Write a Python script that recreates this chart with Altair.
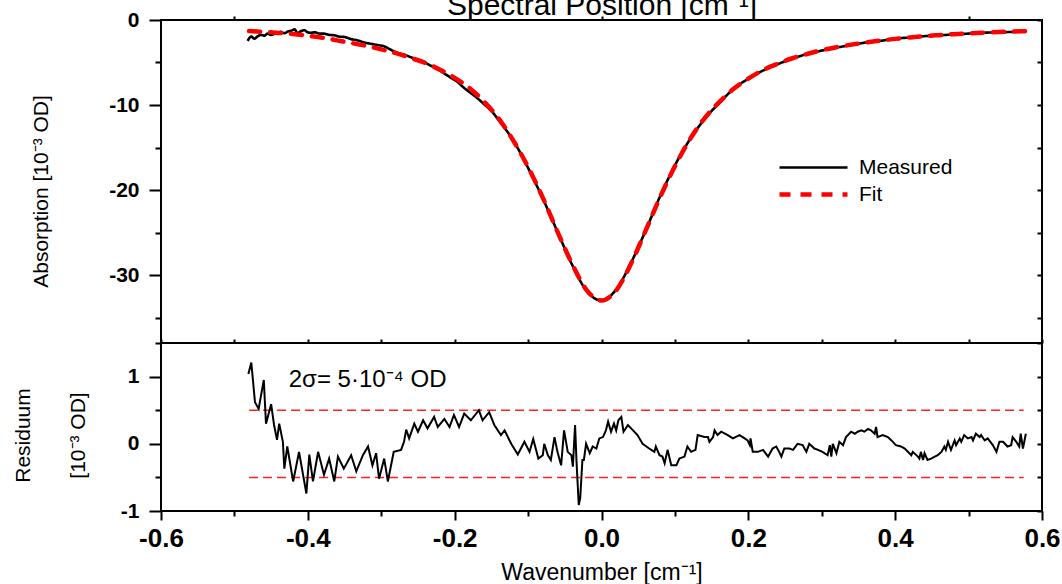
import altair as alt
import pandas as pd

FONT = "Liberation Sans"

# ---------------- data ----------------
series_names = ["Measured", "Fit"]

meas_wn = [-0.482, -0.477, -0.473, -0.468, -0.464, -0.459, -0.455, -0.450, -0.446, -0.441,
           -0.437, -0.432, -0.427, -0.422, -0.418, -0.414, -0.409, -0.405, -0.400, -0.396,
           -0.390, -0.385, -0.378, -0.371, -0.364, -0.357, -0.350, -0.341, -0.332, -0.323,
           -0.314, -0.305, -0.296, -0.287, -0.278, -0.268, -0.259, -0.250, -0.241, -0.232,
           -0.223, -0.214, -0.205, -0.196, -0.187, -0.178, -0.169, -0.160, -0.150, -0.139,
           -0.12, -0.10, -0.08, -0.06, -0.04, -0.02, 0.00, 0.02, 0.04, 0.06,
           0.08, 0.10, 0.12, 0.14, 0.16, 0.18, 0.20, 0.22, 0.24, 0.26,
           0.28, 0.30, 0.32, 0.34, 0.36, 0.38, 0.40, 0.42, 0.44, 0.46,
           0.48, 0.50, 0.52, 0.54, 0.56, 0.575]
meas_val = [-2.45, -1.95, -2.2, -1.9, -1.75, -1.85, -1.6, -1.75, -1.65, -1.5,
            -1.4, -1.55, -1.35, -1.25, -1.1, -1.55, -1.3, -1.2, -1.45, -1.5,
            -1.45, -1.6, -1.6, -1.75, -1.8, -1.95, -2.0, -2.25, -2.4, -2.65,
            -2.8, -2.95, -3.1, -3.5, -3.85, -4.1, -4.4, -4.7, -5.0, -5.4,
            -5.8, -6.3, -6.8, -7.3, -8.0, -8.6, -9.2, -9.9, -10.7, -11.9,
            -14.2, -17.4, -21.0, -24.9, -28.8, -31.9, -33.0, -31.7, -28.6, -24.8,
            -20.7, -17.1, -14.1, -11.7, -9.8, -8.1, -6.9, -5.95, -5.2, -4.55,
            -4.0, -3.6, -3.25, -2.95, -2.65, -2.45, -2.2, -2.05, -1.9, -1.8,
            -1.7, -1.6, -1.5, -1.45, -1.4, -1.35]

fit_wn = [-0.48, -0.46, -0.44, -0.42, -0.40, -0.38, -0.36, -0.34, -0.32, -0.30,
          -0.28, -0.26, -0.24, -0.22, -0.20, -0.18, -0.16, -0.14, -0.12, -0.10,
          -0.08, -0.06, -0.04, -0.02, 0.00, 0.02, 0.04, 0.06, 0.08, 0.10,
          0.12, 0.14, 0.16, 0.18, 0.20, 0.22, 0.24, 0.26, 0.28, 0.30,
          0.32, 0.34, 0.36, 0.38, 0.40, 0.42, 0.44, 0.46, 0.48, 0.50,
          0.52, 0.54, 0.56, 0.58]
fit_val = [-1.30, -1.40, -1.52, -1.65, -1.85, -2.08, -2.40, -2.72, -3.05, -3.45,
           -3.90, -4.45, -5.05, -5.85, -6.80, -8.00, -9.60, -11.6, -14.2, -17.3,
           -20.9, -24.9, -28.7, -31.8, -33.0, -31.8, -28.7, -24.8, -20.8, -17.2,
           -14.1, -11.6, -9.7, -8.1, -6.9, -5.9, -5.15, -4.5, -4.0, -3.55,
           -3.2, -2.9, -2.65, -2.42, -2.22, -2.05, -1.9, -1.78, -1.67, -1.58,
           -1.5, -1.42, -1.36, -1.30]

res_wn = [-0.481, -0.477, -0.472, -0.467, -0.460, -0.457, -0.450, -0.446, -0.442, -0.439,
          -0.434, -0.432, -0.428, -0.420, -0.412, -0.402, -0.398, -0.393, -0.386, -0.378,
          -0.371, -0.364, -0.359, -0.351, -0.341, -0.334, -0.325, -0.318, -0.312, -0.307,
          -0.303, -0.296, -0.291, -0.283, -0.273, -0.269, -0.266, -0.262, -0.255, -0.250,
          -0.243, -0.237, -0.228, -0.223, -0.214, -0.207, -0.201, -0.194, -0.187, -0.178,
          -0.167, -0.162, -0.153, -0.146, -0.137, -0.132, -0.123, -0.114, -0.105, -0.098,
          -0.093, -0.086,
          -0.080, -0.078, -0.073, -0.069, -0.064, -0.060, -0.055, -0.051, -0.046, -0.041,
          -0.039, -0.036, -0.034, -0.031, -0.029, -0.026, -0.024, -0.021, -0.016, -0.012,
          -0.007, -0.003, 0.002, 0.006, 0.009, 0.013, 0.017, 0.020, 0.023, 0.027,
          0.030, 0.036, 0.043, 0.049, 0.056, 0.065, 0.072, 0.074, 0.079, 0.083,
          0.086, 0.090, 0.095, 0.102, 0.106, 0.113, 0.117, 0.122, 0.128, 0.131,
          0.140, 0.145, 0.147, 0.152, 0.154, 0.158, 0.163, 0.172, 0.179, 0.188,
          0.195, 0.199, 0.202, 0.203, 0.206, 0.213, 0.220, 0.227, 0.233, 0.238,
          0.242, 0.245, 0.249, 0.256, 0.261, 0.267, 0.274, 0.279, 0.283, 0.290,
          0.295, 0.301, 0.308, 0.311, 0.313, 0.315, 0.320, 0.324, 0.329, 0.333,
          0.340, 0.345, 0.349, 0.354, 0.358, 0.363, 0.367, 0.372, 0.374, 0.376,
          0.383, 0.390, 0.395, 0.401, 0.408, 0.413, 0.422, 0.424, 0.431, 0.433,
          0.435, 0.438, 0.440, 0.444, 0.449, 0.454, 0.458, 0.463, 0.467, 0.469,
          0.472, 0.476, 0.481, 0.483, 0.488, 0.490, 0.494, 0.499, 0.504, 0.506,
          0.510, 0.515, 0.517, 0.522, 0.526, 0.533, 0.538, 0.542, 0.547, 0.553,
          0.558, 0.560, 0.565, 0.569, 0.571, 0.574, 0.578]
res_val = [1.04, 1.21, 0.62, 0.52, 0.95, 0.30, 0.59, 0.28, 0.06, 0.30,
           0.03, -0.37, -0.04, -0.56, -0.12, -0.74, -0.16, -0.56, -0.12, -0.46,
           -0.22, -0.56, -0.19, -0.37, -0.17, -0.41, -0.17, -0.04, -0.32, -0.14,
           -0.52, -0.22, -0.56, -0.12, -0.09, 0.03, 0.21, 0.08, 0.30, 0.18,
           0.35, 0.23, 0.40, 0.25, 0.37, 0.25, 0.43, 0.25, 0.45, 0.35,
           0.50, 0.35, 0.47, 0.28, 0.13, 0.20, 0.00, -0.16, 0.03, -0.12,
           0.07, -0.22,
           -0.17, 0.00, -0.17, -0.24, 0.10, -0.12, -0.32, 0.20, -0.12, -0.17,
           -0.34, 0.28, -0.27, -0.91, -0.81, -0.24, -0.24, 0.00, -0.14, -0.04,
           -0.07, 0.08, 0.10, 0.20, 0.33, 0.18, 0.30, 0.20, 0.35, 0.40,
           0.18, 0.28, 0.20, 0.13, 0.00, -0.07, -0.12, -0.04, -0.17, -0.19,
           -0.29, -0.09, -0.32, -0.32, -0.22, -0.19, -0.04, -0.12, -0.09, 0.13,
           0.10, 0.10, 0.03, 0.10, 0.20, 0.13, 0.18, 0.13, 0.08, 0.13,
           0.08, 0.05, -0.02, 0.08, -0.12, -0.12, -0.09, -0.19, -0.07, -0.04,
           -0.12, -0.19, -0.07, -0.07, -0.09, 0.00, -0.02, -0.12, 0.00, -0.07,
           -0.09, -0.12, -0.17, -0.02, -0.19, 0.00, -0.14, 0.03, -0.02, 0.10,
           0.18, 0.15, 0.18, 0.20, 0.18, 0.22, 0.20, 0.15, 0.25, 0.10,
           0.13, 0.10, 0.05, -0.02, -0.04, -0.07, -0.17, -0.12, -0.19, -0.22,
           -0.12, -0.24, -0.14, -0.24, -0.22, -0.19, -0.17, -0.12, -0.04, -0.09,
           0.03, -0.09, 0.05, -0.02, 0.08, 0.03, 0.13, 0.08, 0.10, 0.05,
           0.15, 0.10, 0.13, 0.05, 0.08, -0.02, -0.12, 0.03, 0.03, -0.04,
           -0.02, 0.10, 0.03, -0.04, 0.15, -0.07, 0.15]

sigma_levels = [-0.5, 0.5]
sigma_span = [-0.48, 0.575]

note_text = "2σ= 5·10⁻⁴ OD"
note_wn = -0.426
note_val = 0.84

x_ticks = [-0.6, -0.5, -0.4, -0.3, -0.2, -0.1, 0.0, 0.1, 0.2, 0.3, 0.4, 0.5, 0.6]
top_ticks = [-0.5, 0.0, 0.5]
abs_ticks = [0, -5, -10, -15, -20, -25, -30, -35]
res_ticks = [-1, -0.5, 0, 0.5, 1, 1.5]

# ---------------- frames ----------------
meas_df = pd.DataFrame({"wn": meas_wn, "val": meas_val, "series": series_names[0]})
fit_df = pd.DataFrame({"wn": fit_wn, "val": fit_val, "series": series_names[1]})
res_df = pd.DataFrame({"wn": res_wn, "val": res_val})
sig_df = pd.DataFrame({"level": sigma_levels, "x0": sigma_span[0], "x1": sigma_span[1]})
note_df = pd.DataFrame({"wn": [note_wn], "val": [note_val], "label": [note_text]})

W = 881
H_TOP = 323
H_BOT = 168

xscale = alt.Scale(domain=[-0.6, 0.6], nice=False, zero=False)
yscale_top = alt.Scale(domain=[-38, 0], nice=False, zero=False)
yscale_bot = alt.Scale(domain=[-1, 1.5], nice=False, zero=False)

common_axis = dict(domain=False, grid=False, tickColor="black", tickWidth=2,
                   labelColor="black", labelFont=FONT, labelFontWeight="bold",
                   labelFlush=False, labelOverlap=False, labelBound=False,
                   titleFont=FONT, titleColor="black", titleFontWeight="normal")

MAJ10 = "datum.value % 10 == 0"
MAJ1 = "datum.value % 1 == 0"
MAJX = "abs(round(datum.value * 10)) % 2 == 0"

y_top_axis = alt.Axis(
    values=abs_ticks,
    labelExpr=MAJ10 + " ? replace(format(datum.value, 'd'), '\u2212', '-') : ''",
    tickSize={"condition": {"test": MAJ10, "value": 12}, "value": 6},
    labelFontSize={"condition": {"test": MAJ10, "value": 21}, "value": 0},
    labelPadding=10,
    title="Absorption [10⁻³ OD]", titleFontSize=21,
    titleX=-120, titleY=171, titleAngle=-90, titleAlign="center", titleBaseline="middle",
    **common_axis)

y_top_right = alt.Axis(orient="right", values=abs_ticks, labels=False, tickSize=5, offset=-5,
                       title=None, **common_axis)

top_x_axis = alt.Axis(
    orient="top", values=top_ticks, labels=False, tickSize=4,
    title="Spectral Position [cm⁻¹]", titleFontSize=30,
    titleY=-6, titleBaseline="alphabetic",
    **common_axis)

top_x_inner = alt.Axis(orient="bottom", values=x_ticks, labels=False, tickSize=4, offset=-4,
                       title=None, **common_axis)

x_bot_axis = alt.Axis(
    values=x_ticks,
    labelExpr=MAJX + " ? replace(format(datum.value, '.1f'), '\u2212', '-') : ''",
    tickSize={"condition": {"test": MAJX, "value": 9}, "value": 5},
    labelFontSize={"condition": {"test": MAJX, "value": 26}, "value": 0},
    labelPadding=5,
    title="Wavenumber [cm⁻¹]", titleFontSize=23, titlePadding=10,
    **common_axis)

y_bot_axis = alt.Axis(
    values=res_ticks,
    labelExpr=MAJ1 + " ? replace(format(datum.value, 'd'), '\u2212', '-') : ''",
    tickSize={"condition": {"test": MAJ1, "value": 12}, "value": 6},
    labelFontSize={"condition": {"test": MAJ1, "value": 21}, "value": 0},
    labelPadding=10,
    title=["Residuum", "[10⁻³ OD]"], titleFontSize=21, titleLineHeight=55,
    titleX=-138, titleY=92, titleAngle=-90, titleAlign="center", titleBaseline="middle",
    **common_axis)

y_bot_right = alt.Axis(orient="right", values=res_ticks, labels=False, tickSize=5, offset=-5,
                       title=None, **common_axis)

legend = alt.Legend(
    title=None, orient="none", legendX=640, legendY=136,
    symbolType="M-3.4,0H3.4", symbolSize=400,
    labelFont=FONT, labelFontSize=21, labelColor="black", labelOffset=33,
    rowPadding=4, padding=0, labelLimit=0)

color = alt.Color("series:N", scale=alt.Scale(domain=series_names, range=["black", "#ff0000"]), legend=legend)
dash = alt.StrokeDash("series:N", scale=alt.Scale(domain=series_names, range=[[1, 0], [11, 10]]), legend=legend)
width = alt.StrokeWidth("series:N", scale=alt.Scale(domain=series_names, range=[2.6, 4.5]), legend=legend)

meas = alt.Chart(meas_df).mark_line(interpolate="monotone").encode(
    x=alt.X("wn:Q", scale=xscale, axis=top_x_inner),
    y=alt.Y("val:Q", scale=yscale_top, axis=y_top_axis),
    color=color, strokeDash=dash, strokeWidth=width,
)
fit = alt.Chart(fit_df).mark_line(interpolate="monotone", strokeCap="round").encode(
    x=alt.X("wn:Q", scale=xscale, axis=top_x_axis),
    y=alt.Y("val:Q", scale=yscale_top, axis=y_top_right),
    color=color, strokeDash=dash, strokeWidth=width,
)
top = (alt.layer(meas, fit)
       .resolve_scale(x="independent", y="independent")
       .properties(width=W, height=H_TOP))

rules = alt.Chart(sig_df).mark_rule(color="#ff2020", strokeDash=[9, 5], strokeWidth=1.5).encode(
    x=alt.X("x0:Q", scale=xscale, axis=x_bot_axis),
    x2="x1:Q",
    y=alt.Y("level:Q", scale=yscale_bot, axis=y_bot_right),
)
res_line = alt.Chart(res_df).mark_line(color="black", strokeWidth=2).encode(
    x=alt.X("wn:Q", scale=xscale, axis=x_bot_axis),
    y=alt.Y("val:Q", scale=yscale_bot, axis=y_bot_axis),
)
note = alt.Chart(note_df).mark_text(align="left", baseline="alphabetic", font=FONT,
                                     fontSize=24, color="black").encode(
    x=alt.X("wn:Q", scale=xscale, axis=x_bot_axis),
    y=alt.Y("val:Q", scale=yscale_bot, axis=None),
    text="label:N",
)
bottom = (alt.layer(rules, res_line, note)
          .resolve_scale(y="independent")
          .properties(width=W, height=H_BOT))

chart = (
    alt.vconcat(top, bottom, spacing=0, bounds="flush")
    .properties(padding={"left": 11, "top": -11, "right": 0, "bottom": 0}, background="white")
    .configure(font=FONT)
    .configure_view(stroke="black", strokeWidth=2)
)

chart.save("out.html", embed_options={"renderer": "svg", "actions": False})
